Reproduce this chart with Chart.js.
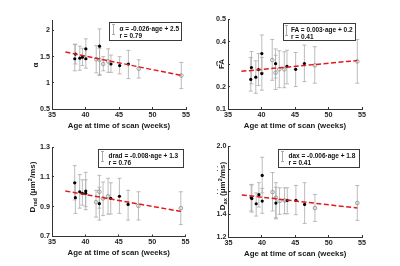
<!DOCTYPE html>
<html lang="en">
<head>
<meta charset="UTF-8">
<title>Diffusion metrics vs age at scan</title>
<script src="https://cdn.jsdelivr.net/npm/chart.js"></script>
<style>
    body { margin: 0; background: #fff; font-family: "Liberation Sans", Arial, sans-serif; }
    #fig { position: relative; width: 400px; height: 266px; overflow: hidden; }
    .panel { position: absolute; width: 200px; height: 133px; }
    .ylab {
        position: absolute; white-space: nowrap; font-weight: bold; font-size: 8px; color: #1a1a1a;
        transform: translate(-50%, -50%) rotate(-90deg); line-height: 1;
    }
    .ylab.cover { background: #fff; padding: 0 1px; }
    .ylab sub { font-size: 5.5px; vertical-align: -1.5px; }
    .ylab sup { font-size: 5.5px; vertical-align: 3px; }
    .leg { position: absolute; box-sizing: border-box; border: 1px solid #3a3a3a; background: #fff; }
    .leg span {
        position: absolute; left: 9.5px; white-space: nowrap; font-weight: bold;
        font-size: 6.5px; line-height: 7px; color: #111;
    }
    .leg .t1 { top: 1.5px; }
    .leg .t2 { top: 8.8px; }
    .leg i {
        position: absolute; left: 2px; top: 1px; width: 3px; height: 10.5px;
        box-sizing: border-box; border-top: 1px solid #aaa; border-bottom: 1px solid #aaa;
    }
    .leg i::before { content: ''; position: absolute; left: 1px; top: 0; bottom: 0; border-left: 1px solid #aaa; }
    .leg.tight span { left: 7px; }
    .leg.tight i { left: 1px; }
</style>
</head>
<body>

<div id="fig">
    <canvas class="panel" id="c1" width="200" height="133" style="left:0;top:0"></canvas>
    <canvas class="panel" id="c2" width="200" height="133" style="left:200px;top:0"></canvas>
    <canvas class="panel" id="c3" width="200" height="133" style="left:0;top:133px"></canvas>
    <canvas class="panel" id="c4" width="200" height="133" style="left:200px;top:133px"></canvas>

    <div class="ylab" style="left:35.5px;top:65px">α</div>
    <div class="ylab cover" style="left:221.5px;top:63.5px">FA</div>
    <div class="ylab" style="left:32.5px;top:187px">D<sub>rad</sub> (μm<sup>2</sup>/ms)</div>
    <div class="ylab cover" style="left:223px;top:186px">D<sub>ax</sub> (μm<sup>2</sup>/ms)</div>

    <div class="leg" style="left:109px;top:22px;width:73px;height:19px">
        <i></i><span class="t1">α = -0.026·age + 2.5</span><span class="t2">r = 0.79</span>
    </div>
    <div class="leg tight" style="left:283px;top:23px;width:73px;height:18px">
        <i></i><span class="t1">FA = 0.003·age + 0.2</span><span class="t2">r = 0.41</span>
    </div>
    <div class="leg" style="left:98px;top:149px;width:86px;height:18.5px">
        <i></i><span class="t1">drad = -0.008·age + 1.3</span><span class="t2">r = 0.76</span>
    </div>
    <div class="leg" style="left:278px;top:149px;width:82px;height:18.5px">
        <i></i><span class="t1">dax = -0.006·age + 1.8</span><span class="t2">r = 0.41</span>
    </div>
</div>

<script>
    // ages (weeks) of the two subject groups, and the ends of the fitted line
    const filledAge = [38.4, 38.5, 39.15, 39.55, 40.05, 40.05, 42.1, 43.8, 45.1, 46.4];
    const openAge = [41.6, 42.1, 42.65, 43.4, 47.95, 54.3];
    const fitAge = [37, 54.3];
    const xTicks = [35, 40, 45, 50, 55];

    // alpha
    const alphaFilled = [1.46, 1.55, 1.47, 1.49, 1.65, 1.46, 1.70, 1.36, 1.33, 1.36];
    const alphaFilledLo = [1.23, 1.36, 1.24, 1.33, 1.45, 1.28, 1.14, 1.20, 1.17, 1.08];
    const alphaFilledHi = [1.73, 1.74, 1.70, 1.66, 1.84, 1.64, 2.03, 1.53, 1.50, 1.62];
    const alphaOpen = [1.45, 1.44, 1.36, 1.41, 1.27, 1.14];
    const alphaOpenLo = [1.19, 1.16, 1.23, 1.20, 1.09, 0.89];
    const alphaOpenHi = [1.71, 1.66, 1.50, 1.65, 1.44, 1.39];
    const alphaFit = [1.59, 1.14];
    const alphaTicks = [0.5, 1, 1.5, 2];
    const alphaTickLabels = ['0.5', '1', '1.5', '2'];

    // FA
    const faFilled = [0.232, 0.285, 0.242, 0.276, 0.347, 0.258, 0.302, 0.290, 0.277, 0.303];
    const faFilledLo = [0.180, 0.212, 0.170, 0.205, 0.262, 0.184, 0.238, 0.212, 0.200, 0.222];
    const faFilledHi = [0.330, 0.356, 0.315, 0.347, 0.430, 0.330, 0.368, 0.362, 0.352, 0.385];
    const faOpen = [0.318, 0.262, 0.277, 0.277, 0.295, 0.312];
    const faOpenLo = [0.228, 0.187, 0.195, 0.195, 0.215, 0.215];
    const faOpenHi = [0.410, 0.340, 0.360, 0.355, 0.378, 0.410];
    const faFit = [0.268, 0.316];
    const faTicks = [0.1, 0.2, 0.3, 0.4, 0.5];
    const faTickLabels = ['0.1', '0.2', '0.3', '0.4', '0.5'];

    // D rad
    const dradFilled = [1.06, 0.96, 1.00, 0.99, 1.005, 0.99, 0.92, 0.955, 0.97, 0.915];
    const dradFilledLo = [0.945, 0.855, 0.89, 0.91, 0.88, 0.90, 0.81, 0.85, 0.855, 0.81];
    const dradFilledHi = [1.175, 1.06, 1.115, 1.08, 1.13, 1.08, 1.03, 1.06, 1.09, 1.01];
    const dradOpen = [0.93, 1.00, 0.955, 0.97, 0.905, 0.89];
    const dradOpenLo = [0.83, 0.89, 0.84, 0.85, 0.81, 0.78];
    const dradOpenHi = [1.01, 1.11, 1.065, 1.09, 1.00, 1.00];
    const dradFit = [1.005, 0.868];
    const dradTicks = [0.7, 0.9, 1.1, 1.3];
    const dradTickLabels = ['0.7', '0.9', '1.1', '1.3'];

    // D ax
    const daxFilled = [1.547, 1.54, 1.494, 1.574, 1.744, 1.518, 1.50, 1.523, 1.523, 1.488];
    const daxFilledLo = [1.43, 1.42, 1.385, 1.465, 1.59, 1.41, 1.36, 1.405, 1.397, 1.32];
    const daxFilledHi = [1.665, 1.66, 1.59, 1.68, 1.905, 1.63, 1.64, 1.635, 1.656, 1.68];
    const daxOpen = [1.597, 1.547, 1.518, 1.523, 1.456, 1.50];
    const daxOpenLo = [1.43, 1.37, 1.40, 1.405, 1.338, 1.347];
    const daxOpenHi = [1.77, 1.68, 1.635, 1.635, 1.576, 1.655];
    const daxFit = [1.572, 1.456];
    const daxTicks = [1.2, 1.4, 1.6, 1.8, 2.0];
    const daxTickLabels = ['1.2', '1.4', '1.6', '1.8', '2.0'];

    Chart.defaults.font.family = '"Liberation Sans", Arial, sans-serif';

    const pts = (xs, ys) => xs.map((x, i) => ({ x: x, y: ys[i] }));

    // each bar = low point, high point, then a gap
    function errPts(xs, lo, hi) {
        const out = [];
        xs.forEach((x, i) => out.push({ x: x, y: lo[i] }, { x: x, y: hi[i] }, { x: x, y: null }));
        return out;
    }

    function panel(id, box, s) {
        const axisLine = { color: '#333', width: 1 };
        const gridOpts = { drawOnChartArea: false, tickLength: -2, color: '#333' };
        new Chart(document.getElementById(id), {
            type: 'scatter',
            data: {
                datasets: [
                    {   // fitted line
                        data: pts(fitAge, s.fit), showLine: true,
                        borderColor: '#e31a1c', borderWidth: 1.5, borderDash: [5, 2.5], pointRadius: 0
                    },
                    {
                        data: pts(filledAge, s.filled),
                        pointRadius: 1.6, backgroundColor: '#000', borderColor: '#000', borderWidth: 0
                    },
                    {
                        data: pts(openAge, s.open),
                        pointRadius: 1.8, backgroundColor: 'rgba(0,0,0,0)', borderColor: '#8a8a8a', borderWidth: 0.8
                    },
                    {   // error bars with caps
                        data: errPts(filledAge.concat(openAge), s.filledLo.concat(s.openLo), s.filledHi.concat(s.openHi)),
                        showLine: true, spanGaps: false, borderColor: '#ababab', borderWidth: 0.8,
                        pointStyle: 'line', pointRadius: 2, pointBorderColor: '#ababab', pointBorderWidth: 0.8
                    }
                ]
            },
            options: {
                responsive: false,
                animation: false,
                events: [],
                layout: {
                    padding: { left: 0, right: 200 - box.R, top: box.T, bottom: Math.max(0, 133 - box.B - 24) }
                },
                plugins: { legend: { display: false }, tooltip: { enabled: false } },
                scales: {
                    x: {
                        type: 'linear', min: 35, max: 55,
                        afterBuildTicks: sc => { sc.ticks = xTicks.map(v => ({ value: v })); },
                        afterFit: sc => { sc.height = 24; },
                        ticks: {
                            autoSkip: false, maxRotation: 0, padding: 3.7, color: '#262626',
                            font: { size: 7.2, weight: 'bold' }, callback: v => String(v)
                        },
                        grid: gridOpts,
                        border: axisLine,
                        title: {
                            display: true, text: 'Age at time of scan (weeks)', color: '#1a1a1a',
                            font: { size: 7.8, weight: 'bold' }, padding: { top: 0, bottom: 2.8 }
                        }
                    },
                    y: {
                        type: 'linear', min: s.min, max: s.max,
                        afterBuildTicks: sc => { sc.ticks = s.ticks.map(v => ({ value: v })); },
                        afterFit: sc => { sc.width = box.L; },
                        ticks: {
                            autoSkip: false, padding: 4, color: '#262626',
                            font: { size: 7.2, weight: 'bold' }, callback: (v, i) => s.labels[i]
                        },
                        grid: gridOpts,
                        border: axisLine
                    }
                }
            }
        });
    }

    panel('c1', { L: 52, R: 186, T: 20, B: 109 }, {
        filled: alphaFilled, filledLo: alphaFilledLo, filledHi: alphaFilledHi,
        open: alphaOpen, openLo: alphaOpenLo, openHi: alphaOpenHi,
        fit: alphaFit, min: 0.5, max: 2.2, ticks: alphaTicks, labels: alphaTickLabels
    });
    panel('c2', { L: 28, R: 162, T: 19.3, B: 109.3 }, {
        filled: faFilled, filledLo: faFilledLo, filledHi: faFilledHi,
        open: faOpen, openLo: faOpenLo, openHi: faOpenHi,
        fit: faFit, min: 0.1, max: 0.5, ticks: faTicks, labels: faTickLabels
    });
    panel('c3', { L: 52, R: 185.5, T: 14, B: 103.5 }, {
        filled: dradFilled, filledLo: dradFilledLo, filledHi: dradFilledHi,
        open: dradOpen, openLo: dradOpenLo, openHi: dradOpenHi,
        fit: dradFit, min: 0.7, max: 1.3, ticks: dradTicks, labels: dradTickLabels
    });
    panel('c4', { L: 28.5, R: 162, T: 13.5, B: 104 }, {
        filled: daxFilled, filledLo: daxFilledLo, filledHi: daxFilledHi,
        open: daxOpen, openLo: daxOpenLo, openHi: daxOpenHi,
        fit: daxFit, min: 1.2, max: 2.0, ticks: daxTicks, labels: daxTickLabels
    });
</script>

</body>
</html>
